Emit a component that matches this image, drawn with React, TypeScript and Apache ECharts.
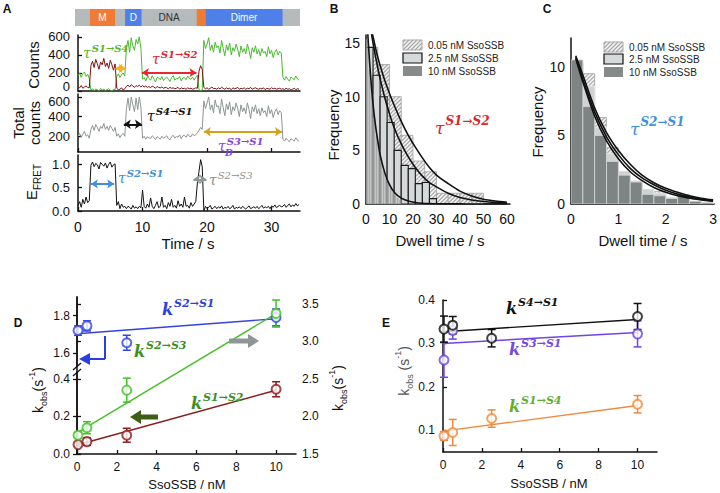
import React, { useEffect, useRef } from 'react';
import * as echarts from 'echarts';

const FONT = "'Liberation Sans', Arial, Helvetica, sans-serif";
const SERIF = "'DejaVu Serif', 'Liberation Serif', serif";

// ---------------- Panel A : single-molecule trace ----------------
const TRACE_DT = 0.25; // seconds per sample
const GREEN_COUNTS = [
  170, 200, 150, 190, 210, 160, 185, 140,
  10, 25, 5, 20, 15, 0, 30, 10, 20, 5, 15, 25, 10, 0, 20, 15,
  160, 190, 150, 180, 200, 165,
  480, 560, 430, 590, 500, 450, 570, 520, 600, 470,
  130, 150, 110, 160, 140, 120, 170, 135, 100, 150, 145, 125, 160, 115, 140, 155, 130, 105, 150, 170,
  120, 140, 135, 160, 110, 145, 150, 125, 165, 140, 130, 155, 120, 150, 175,
  15, 5, 10,
  560, 470, 520, 590, 450, 510, 430, 540, 480, 500, 420, 560, 470, 390, 510, 450, 530, 400, 480, 440,
  520, 460, 380, 500, 430, 470, 410, 520, 450, 360, 480, 430, 500, 410, 460, 390, 470, 420, 440, 380,
  490, 410, 450, 370, 430, 460, 400, 440, 420,
  150, 120, 160, 130, 110, 155, 140, 125, 165, 135, 120,
];
const RED_COUNTS = [
  50, 35, 60, 30, 45, 55, 40, 35,
  280, 330, 260, 350, 300, 240, 320, 290, 360, 270, 310, 250, 340, 290, 230, 300,
  30, 15, 20, 35, 10, 25,
  50, 65, 45, 70, 55, 40, 60, 50, 65, 45,
  60, 45, 55, 40, 50, 35, 55, 45, 30, 50, 40, 35, 45, 30, 40, 35, 25, 40, 30, 35,
  25, 30, 40, 20, 35, 25, 30, 20, 35, 25, 30, 20, 25, 35, 30,
  220, 280, 240,
  40, 25, 35, 20, 30, 45, 25, 30, 20, 35, 25, 40, 30, 20, 35, 25, 30, 15, 35, 25,
  30, 40, 20, 30, 25, 35, 20, 30, 25, 40, 20, 30, 35, 25, 20, 30, 25, 35, 15, 30,
  25, 20, 35, 25, 30, 20, 25, 30, 20,
  25, 15, 30, 20, 25, 10, 20, 30, 15, 25, 20,
];
const TOTAL_COUNTS = [
  200, 230, 190, 220, 250, 200, 215, 180,
  270, 310, 260, 320, 290, 250, 300, 280, 330, 270, 300, 260, 310, 280, 250, 290,
  200, 225, 185, 215, 230, 200,
  480, 590, 460, 600, 520, 450, 590, 470, 600, 500,
  180, 200, 170, 195, 185, 175, 205, 190, 165, 195, 185, 170, 200, 180, 190, 205, 175, 165, 195, 210,
  180, 200, 190, 215, 175, 205, 210, 190, 220, 200, 195, 225, 205, 215, 235,
  260, 290, 270,
  560, 480, 540, 600, 470, 520, 440, 570, 500, 510, 430, 580, 490, 410, 530, 470, 550, 420, 500, 460,
  540, 480, 400, 520, 450, 490, 430, 540, 470, 380, 500, 450, 520, 430, 480, 410, 490, 440, 460, 400,
  510, 430, 470, 390, 450, 480, 420, 460, 440,
  170, 150, 180, 160, 145, 175, 165, 150, 185, 160, 150,
];
const E_FRET = [
  0.12, 0.2, 0.08, 0.25, 0.15, 0.3, 0.18, 0.22,
  0.98, 1.05, 0.95, 1.02, 0.99, 0.9, 1.04, 1.0, 0.96, 1.03, 0.92, 1.0, 1.05, 0.94, 0.99, 1.01,
  0.12, 0.2, 0.05, 0.15, 0.08, 0.1,
  0.05, 0.1, 0.08, 0.04, 0.12, 0.06, 0.09, 0.05, 0.1, 0.07,
  0.45, 0.1, 0.06, 0.15, 0.08, 0.28, 0.1, 0.05, 0.12, 0.2, 0.07, 0.1, 0.3, 0.08, 0.12, 0.05, 0.18, 0.1, 0.25, 0.08,
  0.12, 0.06, 0.22, 0.1, 0.15, 0.08, 0.3, 0.1, 0.12, 0.06, 0.18, 0.1, 0.15, 0.2, 0.6,
  0.85, 1.1, 0.95,
  0.0, 0.1, 0.05, 0.08, 0.12, 0.04, 0.07, 0.1, 0.05, 0.09, 0.06, 0.11, 0.04, 0.08, 0.06, 0.1, 0.05, 0.07, 0.12, 0.04,
  0.08, 0.06, 0.09, 0.05, 0.1, 0.07, 0.04, 0.08, 0.11, 0.05, 0.07, 0.09, 0.06, 0.1, 0.05, 0.08, 0.12, 0.06, 0.09, 0.07,
  0.1, 0.05, 0.11, 0.08, 0.13, 0.07, 0.1, 0.12, 0.09,
  0.1, 0.14, 0.08, 0.12, 0.15, 0.09, 0.13, 0.1, 0.16, 0.11, 0.14,
];
const TIME_TICKS = [0, 10, 20, 30];
const COUNT_TICKS = [0, 200, 400, 600];
const TOTAL_TICKS = [200, 400, 600];
const FRET_TICKS = [0, 0.5, 1.0];
const DOMAIN_NAMES = ['', 'M', 'D', 'DNA', '', 'Dimer'];
const DOMAIN_START = [-0.46, 1.85, 7.3, 9.85, 18.4, 19.75];
const DOMAIN_END = [34.4, 5.75, 9.85, 18.4, 19.75, 31.7];

// ---------------- Panel B : dwell time S1->S2 ----------------
const B_BIN_005 = 5;
const B_HIST_005 = [14.6, 13.0, 10.0, 6.4, 4.0, 3.0, 1.0, 1.0, 1.0, 1.0];
const B_BIN_25 = 3;
const B_HIST_25 = [14.6, 12.0, 10.0, 7.6, 5.0, 3.6, 3.3, 1.9, 2.0, 0.5];
const B_BIN_10 = 1;
const B_HIST_10 = [15.3, 12.5, 10.2, 8.0, 6.4, 5.0, 4.0, 3.1, 2.4, 1.9, 1.5, 1.1, 0.9, 0.6, 0.4];
const B_FIT_T = [0, 1, 2, 3, 4, 5, 6, 8, 10, 12, 15, 18, 21, 24, 27, 30, 35, 40, 45, 50, 55, 60];
const B_FIT_005 = [19, 17.8, 16.6, 15.6, 14.6, 13.7, 12.9, 11.5, 10.3, 9.2, 7.7, 6.4, 5.3, 4.3, 3.4, 2.7, 1.9, 1.2, 0.75, 0.45, 0.28, 0.17];
const B_FIT_25 = [19.5, 17.8, 16.3, 15.0, 13.8, 12.7, 11.7, 9.9, 8.4, 7.1, 5.6, 4.4, 3.4, 2.6, 2.0, 1.6, 1.0, 0.6, 0.38, 0.24, 0.15, 0.1];
const B_FIT_10 = [19, 15.0, 11.8, 9.3, 7.4, 5.9, 4.6, 2.9, 1.8, 1.1, 0.55, 0.28, 0.14, 0.07, 0.04, 0.02, 0.01, 0.01, 0, 0, 0, 0];
const B_X_TICKS = [0, 10, 20, 30, 40, 50, 60];
const B_Y_TICKS = [0, 5, 10, 15];

// ---------------- Panel C : dwell time S2->S1 ----------------
const C_BIN = 0.25;
const C_HIST_005 = [10.3, 9.5, 6.3, 4.1, 1.9, 1.5, 0.5, 0.9, 0.3, 0.2, 0.1, 0];
const C_HIST_25 = [10.4, 8.6, 5.6, 3.7, 2.4, 1.7, 1.1, 0.8, 0.5, 0.3, 0.2, 0.1];
const C_HIST_10 = [10.5, 7.1, 5.0, 3.1, 2.1, 1.6, 0.7, 0.6, 0.4, 0.7, 0.2, 0.1];
const C_FIT_T = [0.1, 0.25, 0.5, 0.75, 1, 1.25, 1.5, 1.75, 2, 2.25, 2.5, 2.75, 3];
const C_FIT_005 = [10.8, 9.4, 7.0, 5.2, 3.9, 2.9, 2.1, 1.55, 1.15, 0.85, 0.6, 0.42, 0.3];
const C_FIT_25 = [10.7, 9.1, 6.7, 4.9, 3.6, 2.6, 1.9, 1.4, 1.0, 0.72, 0.5, 0.36, 0.25];
const C_FIT_10 = [10.6, 8.9, 6.4, 4.6, 3.3, 2.35, 1.7, 1.2, 0.85, 0.6, 0.42, 0.3, 0.2];
const C_X_TICKS = [0, 1, 2, 3];
const C_Y_TICKS = [0, 5, 10];
const LEGEND_LABELS = ['0.05 nM SsoSSB', '2.5 nM SsoSSB', '10 nM SsoSSB'];

// ---------------- Panels D & E : rate constants ----------------
const SSB_CONC = [0.05, 0.5, 2.5, 10];
const FIT_X = [0, 10];
const K_S2S1 = [1.72, 1.745, 1.655, 1.79];
const K_S2S1_ERR = [0.025, 0.027, 0.04, 0.045];
const FIT_S2S1 = [1.703, 1.783];
const K_S2S3 = [1.75, 1.85, 2.35, 3.37];
const K_S2S3_ERR = [0.04, 0.08, 0.16, 0.18];
const FIT_S2S3 = [1.78, 3.37];
const K_S1S2 = [0.05, 0.066, 0.1, 0.345];
const K_S1S2_ERR = [0.01, 0.02, 0.037, 0.04];
const FIT_S1S2 = [0.048, 0.34];
const D_X_TICKS = [0, 2, 4, 6, 8, 10];
const D_LOW_TICKS = [0, 0.2, 0.4];
const D_UP_TICKS = [1.6, 1.8];
const D_RIGHT_TICKS = [1.5, 2.0, 2.5, 3.0, 3.5];

const K_S4S1 = [0.333, 0.342, 0.312, 0.362];
const K_S4S1_ERR = [0.03, 0.02, 0.02, 0.03];
const FIT_S4S1 = [0.327, 0.355];
const K_S3S1 = [0.262, 0.33, null, 0.322];
const K_S3S1_ERR = [0.04, 0.02, 0.02, 0.03];
const FIT_S3S1 = [0.3, 0.325];
const K_S1S4 = [0.087, 0.095, 0.127, 0.16];
const K_S1S4_ERR = [0.01, 0.03, 0.02, 0.02];
const FIT_S1S4 = [0.098, 0.157];
const E_Y_TICKS = [0.1, 0.2, 0.3, 0.4];

// ---------------- helpers ----------------
const AXIS_COLOR = '#111';
const DOMAIN_FILL = ['#b5babc', '#f07b35', '#4f7fe9', 'rgba(0,0,0,0)', '#f07b35', '#4f7fe9'];
const DOMAIN_TEXT = ['#fff', '#fff', '#fff', '#333', '#fff', '#fff'];

function hatchLines(x: number, y: number, w: number, h: number, step: number, color: string, lw: number) {
  const out: any[] = [];
  for (let c = x + y + step * 0.5; c < x + w + y + h; c += step) {
    const lo = Math.max(x, c - (y + h));
    const hi = Math.min(x + w, c - y);
    if (hi - lo > 0.3) {
      out.push({ type: 'line', silent: true, shape: { x1: lo, y1: c - lo, x2: hi, y2: c - hi }, style: { stroke: color, lineWidth: lw } });
    }
  }
  return out;
}

function txt(x: number, y: number, text: string, o: any = {}) {
  const align = o.align || 'center';
  const va = o.va || 'middle';
  return {
    type: 'text', x, y, rotation: o.rotate || 0, silent: true, z: 100,
    style: {
      text, fill: o.color || '#111', fontSize: o.size || 13, fontFamily: o.family || FONT,
      fontWeight: o.weight || 'normal', fontStyle: o.fstyle || 'normal',
      align, verticalAlign: va, textAlign: align, textVerticalAlign: va, rich: o.rich,
    },
  };
}

function supLabel(x: number, y: number, base: string, sup: string, color: string, bs: number, ss: number, bold = false, supBold = true) {
  return txt(x, y, `{b|${base}}{s|${sup}}`, {
    align: 'left', va: 'bottom', color, size: bs, family: SERIF,
    rich: {
      b: { fontFamily: SERIF, fontStyle: 'italic', fontWeight: bold ? 'bold' : 'normal', fontSize: bs, fill: color, verticalAlign: 'bottom' },
      s: { fontFamily: SERIF, fontStyle: 'italic', fontWeight: supBold ? 'bold' : 'normal', fontSize: ss, fill: color, verticalAlign: 'bottom', padding: [0, 0, Math.round(bs * 0.5), 1] },
    },
  });
}

function kobsLabel(x: number, y: number, color: string, spaced: boolean) {
  return txt(x, y, `{a|k}{b|obs}{a|${spaced ? ' ' : ''}(s}{c|-1}{a|)}`, {
    rotate: Math.PI / 2, color, size: 13,
    rich: {
      a: { fontFamily: FONT, fontSize: 14, fill: color, verticalAlign: 'bottom', padding: [0, 0, 4, 0] },
      b: { fontFamily: FONT, fontSize: 9, fill: color, verticalAlign: 'bottom', padding: [0, 0, 0, 0] },
      c: { fontFamily: FONT, fontSize: 9, fill: color, verticalAlign: 'bottom', padding: [0, 0, 12, 0] },
    },
  });
}

function histSeries(xi: number, bin: number, vals: number[], kind: string, z: number) {
  return {
    type: 'custom', xAxisIndex: xi, yAxisIndex: xi, clip: true, z, silent: true,
    encode: { x: [0, 1], y: 2 },
    data: vals.map((h, i) => [i * bin, (i + 1) * bin, h]),
    renderItem: (params: any, api: any) => {
      const a = api.coord([api.value(0), api.value(2)]);
      const b = api.coord([api.value(1), 0]);
      const x = a[0], y = a[1], w = b[0] - a[0], h = b[1] - a[1];
      if (!(h > 0.4)) return { type: 'group', children: [] };
      if (kind === 'hatch') {
        return {
          type: 'group',
          children: [
            { type: 'rect', shape: { x, y, width: w, height: h }, style: { fill: '#f3f3f3', stroke: '#a0a0a0', lineWidth: 0.8 } },
            ...hatchLines(x, y, w, h, 4, '#a8a8a8', 1.2),
          ],
        };
      }
      if (kind === 'lightB') {
        return { type: 'rect', shape: { x, y, width: w, height: h }, style: { fill: '#d5d9d9', stroke: '#1a1a1a', lineWidth: 1.1 } };
      }
      if (kind === 'lightC') {
        return { type: 'rect', shape: { x, y, width: w, height: h }, style: { fill: '#cfd3d3', stroke: '#eef0f0', lineWidth: 0.8 } };
      }
      if (kind === 'darkB') {
        return { type: 'rect', shape: { x, y, width: w, height: h }, style: { fill: '#8a8e8e', opacity: 0.6, stroke: '#e2e4e4', lineWidth: 0.6 } };
      }
      return { type: 'rect', shape: { x, y, width: w, height: h }, style: { fill: '#7e8483', stroke: '#d4d8d8', lineWidth: 0.8 } };
    },
  };
}

function fitCurve(xi: number, ts: number[], vs: number[]) {
  return {
    type: 'line', xAxisIndex: xi, yAxisIndex: xi, data: ts.map((t, i) => [t, vs[i]]),
    symbol: 'none', smooth: 0.3, clip: true, z: 6, silent: true,
    lineStyle: { color: '#111', width: 1.6 },
  };
}

function errSeries(ai: number, vals: (number | null)[], errs: number[], color: string) {
  const data: any[] = [];
  SSB_CONC.forEach((c, i) => {
    const v = vals[i];
    if (v !== null && v !== undefined) data.push([c, v - errs[i], v + errs[i]]);
  });
  return {
    type: 'custom', xAxisIndex: ai, yAxisIndex: ai, z: 7, silent: true,
    encode: { x: 0, y: [1, 2] },
    data,
    renderItem: (params: any, api: any) => {
      const p1 = api.coord([api.value(0), api.value(1)]);
      const p2 = api.coord([api.value(0), api.value(2)]);
      const st = { stroke: color, lineWidth: 1.5 };
      return {
        type: 'group',
        children: [
          { type: 'line', shape: { x1: p1[0], y1: p1[1], x2: p2[0], y2: p2[1] }, style: st },
          { type: 'line', shape: { x1: p1[0] - 4, y1: p1[1], x2: p1[0] + 4, y2: p1[1] }, style: st },
          { type: 'line', shape: { x1: p2[0] - 4, y1: p2[1], x2: p2[0] + 4, y2: p2[1] }, style: st },
        ],
      };
    },
  };
}

function pointSeries(ai: number, vals: (number | null)[], color: string) {
  const data: any[] = [];
  SSB_CONC.forEach((c, i) => {
    const v = vals[i];
    if (v !== null && v !== undefined) data.push([c, v]);
  });
  return {
    type: 'scatter', xAxisIndex: ai, yAxisIndex: ai, data, z: 8, silent: true,
    symbol: 'emptyCircle', symbolSize: 9, itemStyle: { color, borderWidth: 1.3 },
  };
}

function fitLine(ai: number, vals: number[], color: string) {
  return {
    type: 'line', xAxisIndex: ai, yAxisIndex: ai, data: FIT_X.map((x, i) => [x, vals[i]]),
    symbol: 'none', z: 4, silent: true, lineStyle: { color, width: 1.4 },
  };
}

function arrowML(items: any[]) {
  return {
    silent: true, symbol: ['arrow', 'arrow'], symbolSize: 7, label: { show: false },
    data: items.map(([x0, x1, y, c]) => [
      { coord: [x0, y], lineStyle: { color: c, width: 2, type: 'solid' }, itemStyle: { color: c } },
      { coord: [x1, y] },
    ]),
  };
}

const axLine = { show: true, lineStyle: { color: AXIS_COLOR, width: 1.5 } };
const noSplit = { show: false };

function xAx(grid: number, min: number, max: number, o: any = {}) {
  return {
    type: 'value', gridIndex: grid, min, max, splitLine: noSplit,
    axisLine: o.hideLine ? { show: false } : axLine,
    axisTick: o.ticks ? { show: true, inside: o.inside !== false, length: 4, customValues: o.ticks, lineStyle: { color: AXIS_COLOR, width: 1.3 } } : { show: false },
    axisLabel: o.labels ? { show: true, customValues: o.labels, fontSize: o.size || 13, color: '#111', margin: o.margin || 8, fontFamily: FONT } : { show: false },
    show: o.show !== false,
  };
}
function yAx(grid: number, min: number, max: number, o: any = {}) {
  return {
    type: 'value', gridIndex: grid, min, max, splitLine: noSplit, position: o.position || 'left',
    axisLine: axLine,
    axisTick: o.ticks ? { show: true, inside: !!o.inside, length: 4, customValues: o.ticks, lineStyle: { color: AXIS_COLOR, width: 1.3 } } : { show: false },
    axisLabel: o.labels ? { show: true, customValues: o.labels, fontSize: o.size || 13, color: o.color || '#111', margin: o.margin || 8, fontFamily: FONT, formatter: o.fmt, rich: o.rich } : { show: false },
    show: o.show !== false,
  };
}

function buildOption() {
  const fmt1 = (v: number) => v.toFixed(1);
  const grids = [
    { left: 78, top: 35, width: 222, height: 56 },   // 0 A counts
    { left: 78, top: 94, width: 222, height: 58 },   // 1 A total
    { left: 78, top: 155, width: 222, height: 56 },  // 2 A EFRET
    { left: 75, top: 9, width: 225, height: 17 },    // 3 A domain bar
    { left: 366, top: 35, width: 144, height: 169 }, // 4 B
    { left: 571, top: 38, width: 145, height: 166 }, // 5 C
    { left: 77, top: 297, width: 219, height: 157 }, // 6 D (right axis)
    { left: 77, top: 372, width: 219, height: 82 },  // 7 D lower left
    { left: 77, top: 297, width: 219, height: 69 },  // 8 D upper left
    { left: 443, top: 300, width: 214, height: 152 },// 9 E
  ];
  const xAxis = [
    xAx(0, 0, 34.4, {}),
    xAx(1, 0, 34.4, { ticks: TIME_TICKS }),
    xAx(2, 0, 34.4, { ticks: TIME_TICKS, labels: TIME_TICKS, size: 14, margin: 9 }),
    xAx(3, -0.46, 34.4, { show: false }),
    xAx(4, 0, 61.3, { labels: B_X_TICKS, size: 14, margin: 8 }),
    xAx(5, 0, 3.02, { labels: C_X_TICKS, size: 14, margin: 8 }),
    xAx(6, 0, 11, { ticks: D_X_TICKS, labels: D_X_TICKS, size: 12, margin: 7 }),
    xAx(7, 0, 11, { show: false }),
    xAx(8, 0, 11, { show: false }),
    xAx(9, 0, 11, { ticks: D_X_TICKS, labels: D_X_TICKS, size: 12, margin: 7 }),
  ];
  const yAxis = [
    yAx(0, 0, 620, {
      ticks: COUNT_TICKS, labels: COUNT_TICKS, inside: true, size: 13,
      fmt: (v: number) => (v === 0 ? '{lo|0}' : String(v)),
      rich: { lo: { fontSize: 13, fontFamily: FONT, color: '#111', padding: [0, 0, 9, 0] } },
    }),
    yAx(1, 40, 630, {
      ticks: TOTAL_TICKS, labels: TOTAL_TICKS, inside: true, size: 13,
      fmt: (v: number) => (v === 600 ? '{hi|600}' : String(v)),
      rich: { hi: { fontSize: 13, fontFamily: FONT, color: '#111', padding: [9, 0, 0, 0] } },
    }),
    yAx(2, 0, 1.2, { ticks: FRET_TICKS, labels: FRET_TICKS, inside: true, size: 13, fmt: fmt1 }),
    yAx(3, 0, 1, { show: false }),
    yAx(4, 0, 15.75, { labels: B_Y_TICKS, size: 14, margin: 6 }),
    yAx(5, 0, 12.1, { labels: C_Y_TICKS, size: 14, margin: 6 }),
    yAx(6, 1.5, 3.59, { position: 'right', ticks: D_RIGHT_TICKS, labels: D_RIGHT_TICKS, size: 12, margin: 6, fmt: fmt1 }),
    yAx(7, 0, 0.437, { ticks: D_LOW_TICKS, labels: D_LOW_TICKS, size: 12, margin: 7, fmt: fmt1 }),
    yAx(8, 1.531, 1.899, { ticks: D_UP_TICKS, labels: D_UP_TICKS, size: 12, margin: 7, fmt: fmt1 }),
    yAx(9, 0.05, 0.4, { ticks: E_Y_TICKS, labels: E_Y_TICKS, inside: true, size: 12, margin: 8, fmt: fmt1 }),
  ];

  const series: any[] = [
    // domain bar
    {
      type: 'custom', xAxisIndex: 3, yAxisIndex: 3, silent: true, z: 1,
      encode: { x: [0, 1] },
      data: DOMAIN_START.map((s, i) => [s, DOMAIN_END[i]]),
      renderItem: (params: any, api: any) => {
        const i = params.dataIndex;
        const a = api.coord([api.value(0), 1]);
        const b = api.coord([api.value(1), 0]);
        return {
          type: 'group',
          children: [
            { type: 'rect', shape: { x: a[0], y: a[1], width: b[0] - a[0], height: b[1] - a[1] }, style: { fill: DOMAIN_FILL[i] } },
            {
              type: 'text', x: (a[0] + b[0]) / 2, y: (a[1] + b[1]) / 2,
              style: { text: DOMAIN_NAMES[i], fill: DOMAIN_TEXT[i], fontSize: 10, fontFamily: FONT, align: 'center', verticalAlign: 'middle', textAlign: 'center', textVerticalAlign: 'middle' },
            },
          ],
        };
      },
    },
    {
      type: 'line', xAxisIndex: 0, yAxisIndex: 0, symbol: 'none', silent: true, z: 2,
      data: GREEN_COUNTS.map((v, i) => [i * TRACE_DT, v]),
      lineStyle: { color: '#4ab82e', width: 1 },
      markLine: arrowML([[5.8, 7.4, 251, '#f6b21c'], [9.9, 18.35, 203, '#e8282c']]),
    },
    {
      type: 'line', xAxisIndex: 0, yAxisIndex: 0, symbol: 'none', silent: true, z: 3,
      data: RED_COUNTS.map((v, i) => [i * TRACE_DT, v]),
      lineStyle: { color: '#7c1313', width: 1 },
    },
    {
      type: 'line', xAxisIndex: 1, yAxisIndex: 1, symbol: 'none', silent: true, z: 2,
      data: TOTAL_COUNTS.map((v, i) => [i * TRACE_DT, v]),
      lineStyle: { color: '#8d9591', width: 1 },
      markLine: arrowML([[7.1, 9.9, 322, '#111'], [19.5, 31.6, 246, '#d2a21c']]),
    },
    {
      type: 'line', xAxisIndex: 2, yAxisIndex: 2, symbol: 'none', silent: true, z: 2,
      data: E_FRET.map((v, i) => [i * TRACE_DT, v]),
      lineStyle: { color: '#111', width: 1 },
      markLine: arrowML([[2.0, 5.6, 0.58, '#3d8fe3'], [17.9, 19.9, 0.68, '#8e9696']]),
    },
    // B
    histSeries(4, B_BIN_005, B_HIST_005, 'hatch', 2),
    histSeries(4, B_BIN_25, B_HIST_25, 'lightB', 3),
    histSeries(4, B_BIN_10, B_HIST_10, 'darkB', 4),
    fitCurve(4, B_FIT_T, B_FIT_005),
    fitCurve(4, B_FIT_T, B_FIT_25),
    fitCurve(4, B_FIT_T, B_FIT_10),
    // C
    histSeries(5, C_BIN, C_HIST_005, 'hatch', 2),
    histSeries(5, C_BIN, C_HIST_25, 'lightC', 3),
    histSeries(5, C_BIN, C_HIST_10, 'darkC', 4),
    fitCurve(5, C_FIT_T, C_FIT_005),
    fitCurve(5, C_FIT_T, C_FIT_25),
    fitCurve(5, C_FIT_T, C_FIT_10),
    // D
    fitLine(8, FIT_S2S1, '#3344dd'),
    errSeries(8, K_S2S1, K_S2S1_ERR, '#3344dd'),
    pointSeries(8, K_S2S1, '#3344dd'),
    fitLine(7, FIT_S1S2, '#8b1c1c'),
    errSeries(7, K_S1S2, K_S1S2_ERR, '#8b1c1c'),
    pointSeries(7, K_S1S2, '#8b1c1c'),
    fitLine(6, FIT_S2S3, '#44c02a'),
    errSeries(6, K_S2S3, K_S2S3_ERR, '#44c02a'),
    pointSeries(6, K_S2S3, '#44c02a'),
    // E
    fitLine(9, FIT_S1S4, '#f08a3c'),
    errSeries(9, K_S1S4, K_S1S4_ERR, '#f08a3c'),
    pointSeries(9, K_S1S4, '#f08a3c'),
    fitLine(9, FIT_S3S1, '#6f44e6'),
    errSeries(9, K_S3S1, K_S3S1_ERR, '#6f44e6'),
    pointSeries(9, K_S3S1, '#6f44e6'),
    fitLine(9, FIT_S4S1, '#111'),
    errSeries(9, K_S4S1, K_S4S1_ERR, '#111'),
    pointSeries(9, K_S4S1, '#111'),
  ];

  const legendEls = (x: number, ys: number[], tx: number) => {
    const w = 19, h = 10;
    const els: any[] = [
      { type: 'rect', silent: true, shape: { x, y: ys[0], width: w, height: h }, style: { fill: '#f3f3f3', stroke: '#9a9a9a', lineWidth: 0.8 } },
      ...hatchLines(x, ys[0], w, h, 4, '#a6a6a6', 1.1),
      { type: 'rect', silent: true, shape: { x, y: ys[1], width: w, height: h }, style: { fill: '#d5d9d9', stroke: '#111', lineWidth: 1.2 } },
      { type: 'rect', silent: true, shape: { x, y: ys[2], width: w, height: h }, style: { fill: '#868b8a' } },
    ];
    LEGEND_LABELS.forEach((t, i) => els.push(txt(tx, ys[i] + h / 2, t, { size: 10, align: 'left', color: '#222' })));
    return els;
  };

  const line = (x1: number, y1: number, x2: number, y2: number, color: string, w: number) =>
    ({ type: 'line', silent: true, z: 50, shape: { x1, y1, x2, y2 }, style: { stroke: color, lineWidth: w } });
  const tri = (pts: number[][], color: string) => ({ type: 'polygon', silent: true, z: 50, shape: { points: pts }, style: { fill: color } });

  const graphics: any[] = [
    // panel letters
    txt(7, 9, 'A', { weight: 'bold', size: 12 }),
    txt(334, 9, 'B', { weight: 'bold', size: 12 }),
    txt(547, 9, 'C', { weight: 'bold', size: 12 }),
    txt(18, 323, 'D', { weight: 'bold', size: 12 }),
    txt(386, 323, 'E', { weight: 'bold', size: 12 }),
    // A axis titles
    txt(33, 65, 'Counts', { rotate: Math.PI / 2, size: 15 }),
    txt(18, 123, 'Total', { rotate: Math.PI / 2, size: 15 }),
    txt(34, 123, 'counts', { rotate: Math.PI / 2, size: 15 }),
    txt(33, 182, '{e|E}{f|FRET}', {
      rotate: Math.PI / 2, size: 15,
      rich: {
        e: { fontFamily: FONT, fontSize: 15, fill: '#111', verticalAlign: 'bottom', padding: [0, 0, 4, 0] },
        f: { fontFamily: FONT, fontSize: 10, fill: '#111', verticalAlign: 'bottom', padding: [6, 0, 0, 0] },
      },
    }),
    txt(188, 243, 'Time / s', { size: 15 }),
    // A annotations
    supLabel(83, 60, 'τ', 'S1→S4', '#5ab52f', 14, 10),
    supLabel(152, 66, 'τ', 'S1→S2', '#d8282c', 14, 10),
    supLabel(147, 123, 'τ', 'S4→S1', '#111', 14, 10),
    supLabel(218, 153, 'τ', 'S3→S1', '#8a3ee0', 14, 10),
    txt(225, 148, 'D', { size: 9, align: 'left', va: 'top', color: '#8a3ee0', family: SERIF, fstyle: 'italic', weight: 'bold' }),
    supLabel(118, 185, 'τ', 'S2→S1', '#3d8fe3', 14, 10),
    supLabel(209, 187, 'τ', 'S2→S3', '#8e8e8e', 14, 10, false, false),
    // B
    txt(333, 125, 'Frequency', { rotate: Math.PI / 2, size: 15 }),
    txt(440, 240, 'Dwell time / s', { size: 15 }),
    supLabel(435, 136, 'τ', 'S1→S2', '#d8282c', 17, 12),
    ...legendEls(403, [40, 53, 66], 428),
    // C
    txt(537, 122, 'Frequency', { rotate: Math.PI / 2, size: 15 }),
    txt(643, 240, 'Dwell time / s', { size: 15 }),
    supLabel(630, 137, 'τ', 'S2→S1', '#3d8fe3', 17, 12),
    ...legendEls(604, [42, 54, 67], 629),
    // D
    kobsLabel(38, 390, '#111', false),
    kobsLabel(338, 388, '#111', false),
    txt(187, 484, 'SsoSSB / nM', { size: 13 }),
    supLabel(162, 317, 'k', 'S2→S1', '#2b40d8', 16, 11, true),
    supLabel(134, 359, 'k', 'S2→S3', '#3b8f1f', 16, 11, true),
    supLabel(191, 411, 'k', 'S1→S2', '#3b8f1f', 16, 11, true),
    line(73, 370, 81, 363, '#111', 1.3),
    line(73, 376, 81, 369, '#111', 1.3),
    line(105, 336, 105, 359, '#2b3fe0', 2),
    line(105, 359, 88, 359, '#2b3fe0', 2),
    tri([[79, 359], [90, 353], [90, 365]], '#2b3fe0'),
    line(158, 417, 139, 417, '#3e5e16', 5),
    tri([[130, 417], [141, 410], [141, 424]], '#3e5e16'),
    line(229, 341, 249, 341, '#8e9696', 5),
    tri([[259, 341], [248, 334], [248, 348]], '#8e9696'),
    // E
    kobsLabel(404, 371, '#555', true),
    txt(549, 483, 'SsoSSB / nM', { size: 13 }),
    supLabel(506, 316, 'k', 'S4→S1', '#111', 16, 11, true),
    supLabel(509, 357, 'k', 'S3→S1', '#7448e0', 16, 11, true),
    supLabel(509, 414, 'k', 'S1→S4', '#5cb030', 16, 11, true),
  ];

  return {
    animation: false,
    backgroundColor: '#ffffff',
    textStyle: { fontFamily: FONT },
    grid: grids,
    xAxis,
    yAxis,
    series,
    graphic: { elements: graphics },
  };
}

export default function App() {
  const ref = useRef<HTMLDivElement>(null);
  useEffect(() => {
    document.body.style.margin = '0';
    if (!ref.current) return;
    const chart = echarts.init(ref.current, undefined, { renderer: 'svg' });
    chart.setOption(buildOption() as any);
    return () => chart.dispose();
  }, []);
  return <div ref={ref} style={{ position: 'fixed', left: 0, top: 0, width: 720, height: 493 }} />;
}
